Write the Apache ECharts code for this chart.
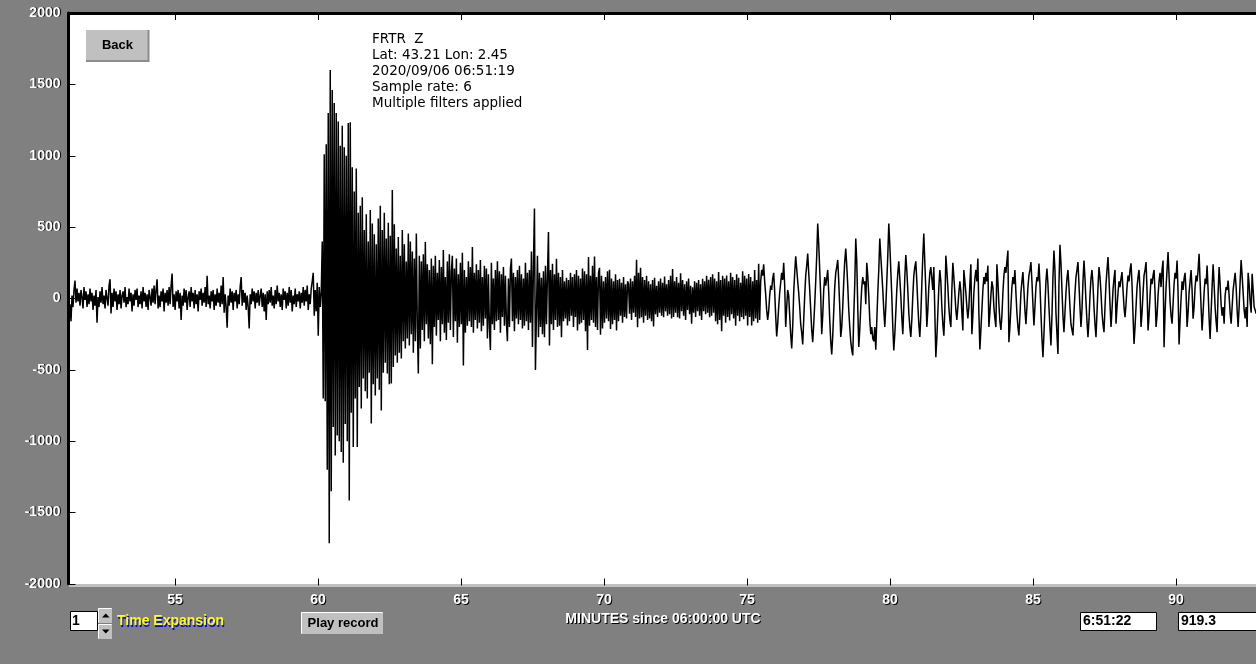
<!DOCTYPE html>
<html>
<head>
<meta charset="utf-8">
<style>
  html, body { margin: 0; padding: 0; background: #808080; }
  #chart { width: 1256px; height: 664px; }
</style>
<script src="https://cdn.jsdelivr.net/npm/echarts@6/dist/echarts.min.js"></script>
</head>
<body>
<div id="chart"></div>
<script>
// ---- data ----
const startMin = 51.33;          // minutes since 06:00:00 UTC of first sample
const sampleStepMin = 0.035;     // minutes between plotted samples
const xMin = 51.33, xMax = 92.8;
const xTicks = [55, 60, 65, 70, 75, 80, 85, 90];
const yMin = -2000, yMax = 2000, yStep = 500;
const infoLines = ["FRTR  Z", "Lat: 43.21 Lon: 2.45", "2020/09/06 06:51:19", "Sample rate: 6", "Multiple filters applied"];
const axisName = "MINUTES since 06:00:00 UTC";
const expansionValue = "1";
const timeBoxText = "6:51:22";
const valueBoxText = "919.3";

const waveform = [
-40,-160,20,-60,60,125,-30,70,-20,40,
-50,60,10,-70,80,-10,50,-60,30,-40,
70,-20,40,-80,20,-50,60,-170,10,-60,
50,-30,80,-40,20,-70,60,0,-50,90,
135,-105,40,-60,70,-20,50,-80,30,-40,
60,-70,20,50,-30,80,-60,10,-40,70,
-20,40,-90,30,-50,60,-10,70,-60,20,
-40,50,-70,80,-20,40,-60,30,-80,60,
10,-50,70,-30,90,-40,60,135,-70,20,
-60,50,-20,70,-90,40,-30,60,-50,80,
-40,90,175,-60,30,-80,50,-20,60,-70,
40,-150,20,-50,70,-30,60,-80,10,50,
-60,80,-20,40,-70,60,-40,30,-90,50,
-10,70,-50,40,-30,80,-60,160,-40,20,
-70,50,-20,60,-80,30,-50,70,-30,40,
-60,90,-40,150,-100,30,-60,-205,20,-50,
70,-30,50,-80,40,-20,60,-70,30,-40,
80,150,-50,60,-30,40,-80,20,-60,-210,
30,-40,70,-20,50,-70,40,-30,60,-50,
20,70,-60,40,-90,30,-150,50,-40,60,
-30,80,-50,20,-70,60,-40,90,-20,40,
-60,30,-80,70,-10,50,-70,40,-50,80,
-30,60,-90,20,-40,70,-60,30,-20,50,
-70,40,-30,80,-50,60,-20,90,-80,30,
-40,70,120,180,-120,60,-90,110,-260,80,
-60,40,400,-700,1010,-720,1080,-1200,1300,-1715,
1600,-1350,1460,-900,1370,-1100,1300,-960,1240,-1000,
1070,-1075,1210,-1150,1060,-880,1000,-1000,1230,-1415,
1235,-800,920,-1040,750,-700,910,-1040,600,-620,
650,-770,710,-560,480,-650,590,-700,400,-520,
620,-875,525,-600,450,-680,380,-560,560,-640,
650,-785,480,-520,600,-450,420,-525,530,-600,
440,-595,760,-480,520,-400,350,-450,430,-380,
300,-420,480,-300,380,-350,260,-280,455,-330,
400,-250,330,-380,280,-300,455,-200,-525,300,
-350,260,-220,310,-300,395,-180,240,-280,200,
-320,280,-460,230,-200,300,-260,180,-150,270,
-300,220,-180,340,-240,150,-290,260,-170,310,
-220,190,300,-270,210,-160,280,-310,170,-200,
250,-180,320,-470,200,-240,150,-190,260,-160,
220,-200,360,-240,180,-150,240,-210,200,-170,
270,-230,150,-190,230,-140,210,-280,170,-200,
-360,250,-180,140,-220,200,-160,260,-150,190,
-240,170,-130,220,-190,160,-170,-300,140,-200,
210,280,-160,180,-230,150,-140,200,-180,230,
-150,170,-210,140,-190,250,-160,180,-220,200,
-170,330,-340,240,630,-500,-505,300,-271,180,
-200,145,-250,190,-271,230,-180,160,465,-330,
200,-180,243,-220,170,-150,278,-200,180,-190,
150,-271,200,-160,120,-140,145,-189,130,-160,
180,-120,150,-200,170,-130,200,-224,160,-180,
140,-170,210,-150,190,-230,170,-360,290,-190,
160,-150,230,-170,294,-200,150,-220,180,215,
-254,160,-210,120,-170,150,-140,190,-160,201,
-213,140,-180,120,-150,170,-224,130,-160,138,
-120,110,-170,150,-130,100,-140,120,103,-107,
140,-150,120,-100,160,-130,271,-201,180,-140,
215,-131,150,-170,130,-120,160,-150,120,-140,
100,-160,130,-196,145,-110,90,-130,120,-100,
140,-120,110,-131,154,-90,100,-120,130,-110,
160,-140,206,-130,120,-100,150,-131,110,-140,
177,-90,130,-120,100,-150,120,-80,140,-110,
90,-177,79,-100,120,-130,110,-90,130,-120,
100,-150,138,-90,120,-110,160,-100,131,-131,
150,-120,170,-100,140,-160,120,-180,185,-150,
130,-229,160,-120,140,-170,161,-130,120,-154,
180,-110,150,-140,130,-190,170,-120,145,-160,
110,-130,190,-145,160,-120,140,-189,172,-130,
150,-189,120,-160,200,-140,130,-170,243,-150,
120,200,160,240,120,30,-80,-150,-90,20,
90,60,140,180,50,-120,-266,-180,-60,40,
110,180,130,250,90,-200,-60,60,20,-120,
-250,-350,-200,40,180,295,210,120,40,-60,
-180,-240,-322,-150,20,160,230,315,180,60,
-80,-220,-306,-180,-40,120,300,525,380,200,
20,-250,-120,60,150,90,140,200,40,-150,
-300,-392,-260,-90,80,180,220,270,120,-60,
-270,-200,-60,120,260,350,230,90,-80,-200,
-300,-360,-399,-120,100,420,260,-60,-340,-220,
-60,80,150,100,120,-40,250,160,20,-150,
-250,-200,-280,-300,-200,-359,-160,40,200,420,
300,180,60,-80,-200,-60,120,300,525,380,
200,20,-200,-364,-250,-100,60,180,260,140,
20,-130,-250,-60,150,305,200,60,-100,-200,
-270,-150,20,160,220,260,120,-40,-180,-270,
-120,100,300,455,250,60,-200,-80,80,180,
220,140,60,220,-100,-411,-280,-100,80,200,
120,-60,-180,-260,-80,300,200,80,-60,-150,
-200,60,250,150,40,-80,-150,-60,40,120,
50,-100,-224,200,120,40,-60,-140,-60,100,
240,-250,-120,40,140,200,120,280,-100,-357,
-220,-80,60,150,100,180,120,230,-200,-100,
20,120,80,-60,-140,-200,240,120,-40,-160,
-220,-120,40,160,220,180,260,336,-306,-200,
-60,80,150,100,200,40,-100,-200,-259,-120,
40,120,185,60,-80,-180,-60,80,160,200,
255,120,-40,-189,-60,80,150,120,245,100,
-100,-280,-411,-250,-60,120,210,100,-60,-200,
-329,-120,150,336,200,-100,-250,-388,100,376,
250,60,-120,-236,-100,40,140,200,80,-60,
-180,-220,-259,-100,40,150,200,255,100,-60,
-200,-80,120,266,140,-20,-160,-271,-150,20,
140,200,100,-60,-180,-271,-100,80,220,150,
40,-100,-180,-236,-60,100,200,290,140,-40,
-200,-80,60,140,200,-177,-60,40,120,80,
140,185,60,-60,-131,-40,80,160,120,200,
247,100,-120,-318,-200,-60,80,150,200,60,
-200,-100,40,160,200,255,60,-224,-120,20,
140,100,160,200,40,-200,-120,20,120,180,
80,200,266,-341,-100,80,200,325,160,-20,
-120,-177,-40,100,180,140,266,40,-322,-150,
0,120,60,140,180,40,-200,-100,40,120,
200,60,-142,-60,80,160,120,200,313,120,
-60,-224,-100,40,140,100,231,60,-140,-283,
-100,80,240,100,-60,-160,-236,40,220,100,
-40,-120,-60,-177,20,80,60,126,20,-100,
-177,-60,60,120,180,80,-80,-200,-60,120,
270,160,40,-80,-140,-60,-200,180,100,-20,
-100,173,60,-60,-80,-107
];

// ---- chart ----
const seriesData = waveform.map((v, i) => [startMin + i * sampleStepMin, v]);

const uiFont = 'Liberation Sans, Arial, sans-serif';
const labelFont = { fontFamily: uiFont, fontWeight: 'bold', fontSize: 14 };
const noComma = v => String(Math.round(v));

const chart = echarts.init(document.getElementById('chart'), null, { renderer: 'canvas' });

const option = {
  backgroundColor: '#808080',
  animation: false,
  title: {
    text: infoLines.join('\n'),
    left: 372,
    top: 31,
    padding: 0,
    textStyle: {
      fontFamily: 'DejaVu Sans, sans-serif',
      fontSize: 13.5,
      lineHeight: 16,
      fontWeight: 'normal',
      color: '#000'
    }
  },
  grid: {
    left: 70, top: 13, right: 0, bottom: 80,
    outerBoundsMode: 'none', containLabel: false,
    show: true, backgroundColor: '#ffffff', borderWidth: 0
  },
  xAxis: [
    {
      // main bottom axis (white labels)
      type: 'value', position: 'bottom', min: xMin, max: xMax, offset: 1.5, z: 2,
      axisLine: { show: true, onZero: false, lineStyle: { color: '#c0c0c0', width: 3 } },
      axisTick: { show: true, inside: true, length: 7, customValues: xTicks, lineStyle: { color: '#000', width: 1 } },
      axisLabel: Object.assign({ customValues: xTicks, margin: 8, color: '#fff', formatter: noComma }, labelFont),
      splitLine: { show: false },
      name: axisName, nameLocation: 'middle', nameGap: 21,
      nameTextStyle: Object.assign({ color: '#fff' }, labelFont)
    },
    {
      // top frame
      type: 'value', position: 'top', min: xMin, max: xMax,
      axisLine: { show: true, onZero: false, lineStyle: { color: '#000', width: 3 } },
      axisTick: { show: true, inside: true, length: 7, customValues: xTicks, lineStyle: { color: '#000', width: 1 } },
      axisLabel: { show: false },
      splitLine: { show: false }
    },
    {
      // shadow copy of bottom labels
      type: 'value', position: 'bottom', min: xMin, max: xMax, offset: 2.5, z: 1,
      axisLine: { show: false }, axisTick: { show: false }, splitLine: { show: false },
      axisLabel: Object.assign({ customValues: xTicks, margin: 8, color: '#000', padding: [0, 0, 0, 2], formatter: noComma }, labelFont),
      name: axisName, nameLocation: 'middle', nameGap: 21,
      nameTextStyle: Object.assign({ color: '#000', padding: [0, 0, 0, 2] }, labelFont)
    }
  ],
  yAxis: [
    {
      type: 'value', position: 'left', min: yMin, max: yMax, interval: yStep, offset: 1.5, z: 2,
      axisLine: { show: true, onZero: false, lineStyle: { color: '#000', width: 3 } },
      axisTick: { show: true, inside: true, length: 7, lineStyle: { color: '#000', width: 1 } },
      axisLabel: Object.assign({ margin: 8, color: '#fff', formatter: noComma }, labelFont),
      splitLine: { show: false }
    },
    {
      // shadow copy of y labels
      type: 'value', position: 'left', min: yMin, max: yMax, interval: yStep, offset: 0.5, z: 1,
      axisLine: { show: false }, axisTick: { show: false }, splitLine: { show: false },
      axisLabel: Object.assign({ margin: 8, color: '#000', padding: [2, 0, 0, 0], formatter: noComma }, labelFont)
    }
  ],
  series: [{
    type: 'line',
    xAxisIndex: 0,
    yAxisIndex: 0,
    data: seriesData,
    symbol: 'none',
    showSymbol: false,
    sampling: null,
    lineStyle: { color: '#000000', width: 1.5 },
    silent: true,
    clip: true,
    z: 3
  }],
  graphic: [
    // Back button
    { type: 'rect', shape: { x: 86, y: 30, width: 63, height: 32 }, style: { fill: '#c0c0c0' } },
    { type: 'polyline', shape: { points: [[86, 61], [148.5, 61], [148.5, 30]] }, style: { stroke: '#8c8c8c', lineWidth: 2, fill: null } },
    { type: 'text', x: 117.5, y: 45, style: { text: 'Back', font: 'bold 13px ' + uiFont, fill: '#000', align: 'center', verticalAlign: 'middle' } },
    // Time expansion input
    { type: 'rect', shape: { x: 70.5, y: 611.5, width: 27, height: 19 }, style: { fill: '#ffffff', stroke: '#000', lineWidth: 1 } },
    { type: 'text', x: 72, y: 621, style: { text: expansionValue, font: 'bold 14px ' + uiFont, fill: '#000', verticalAlign: 'middle' } },
    { type: 'rect', shape: { x: 98, y: 608, width: 14, height: 15 }, style: { fill: '#c0c0c0' } },
    { type: 'polyline', shape: { points: [[98.5, 622.5], [98.5, 608.5], [111.5, 608.5]] }, style: { stroke: '#ffffff', lineWidth: 1, fill: null } },
    { type: 'polygon', shape: { points: [[102, 617.5], [109.5, 617.5], [105.75, 613.5]] }, style: { fill: '#000' } },
    { type: 'rect', shape: { x: 98, y: 624, width: 14, height: 15 }, style: { fill: '#c0c0c0' } },
    { type: 'polyline', shape: { points: [[98.5, 638.5], [98.5, 624.5], [111.5, 624.5]] }, style: { stroke: '#ffffff', lineWidth: 1, fill: null } },
    { type: 'polygon', shape: { points: [[102, 629.5], [109.5, 629.5], [105.75, 633.5]] }, style: { fill: '#000' } },
    { type: 'text', x: 118, y: 623, style: { text: 'Time Expansion', font: 'bold 14px ' + uiFont, fill: '#0000ff', verticalAlign: 'middle' } },
    { type: 'text', x: 117, y: 621, style: { text: 'Time Expansion', font: 'bold 14px ' + uiFont, fill: '#ffff00', verticalAlign: 'middle' } },
    // Play record button
    { type: 'rect', shape: { x: 301, y: 612, width: 82, height: 22 }, style: { fill: '#c0c0c0' } },
    { type: 'polyline', shape: { points: [[301.5, 633.5], [301.5, 612.5], [382.5, 612.5]] }, style: { stroke: '#ffffff', lineWidth: 1, fill: null } },
    { type: 'text', x: 343, y: 623.5, style: { text: 'Play record', font: 'bold 13px ' + uiFont, fill: '#000', align: 'center', verticalAlign: 'middle' } },
    // Readout boxes
    { type: 'rect', shape: { x: 1080.5, y: 612.5, width: 76, height: 18 }, style: { fill: '#ffffff', stroke: '#000', lineWidth: 1 } },
    { type: 'text', x: 1083, y: 621.5, style: { text: timeBoxText, font: 'bold 14px ' + uiFont, fill: '#000', verticalAlign: 'middle' } },
    { type: 'rect', shape: { x: 1178.5, y: 612.5, width: 82, height: 18 }, style: { fill: '#ffffff', stroke: '#000', lineWidth: 1 } },
    { type: 'text', x: 1181, y: 621.5, style: { text: valueBoxText, font: 'bold 14px ' + uiFont, fill: '#000', verticalAlign: 'middle' } }
  ]
};

chart.setOption(option);
</script>
</body>
</html>
